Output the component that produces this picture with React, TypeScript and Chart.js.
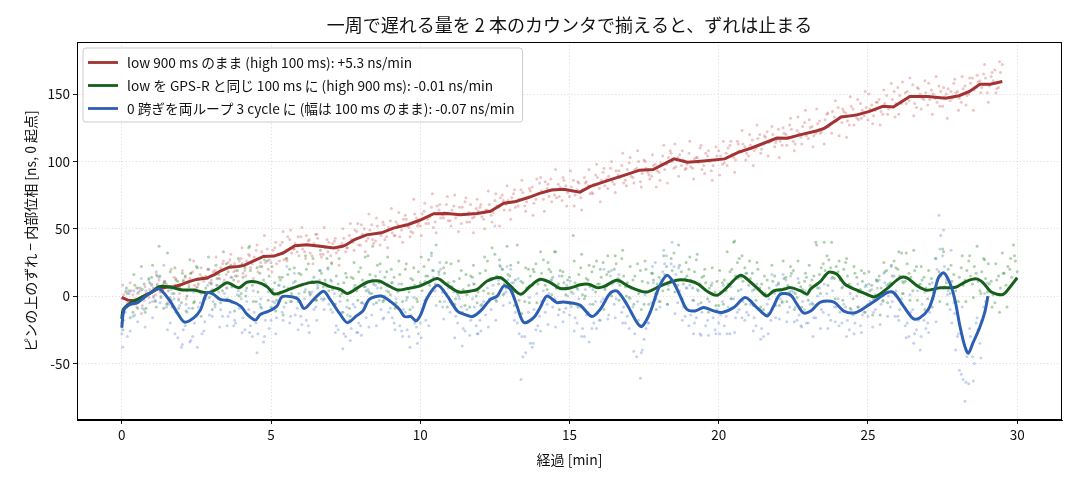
import React, { useEffect, useRef } from "react";
import { Chart, registerables } from "chart.js";

Chart.register(...registerables);

const TITLE = "一周で遅れる量を 2 本のカウンタで揃えると、ずれは止まる";
const X_LABEL = "経過 [min]";
const Y_LABEL = "ピンの上のずれ − 内部位相 [ns, 0 起点]";
const LABEL_RED = "low 900 ms のまま (high 100 ms): +5.3 ns/min";
const LABEL_GREEN = "low を GPS-R と同じ 100 ms に (high 900 ms): -0.01 ns/min";
const LABEL_BLUE = "0 跨ぎを両ループ 3 cycle に (幅は 100 ms のまま): -0.07 ns/min";

const X_TICKS = [0, 5, 10, 15, 20, 25, 30];
const Y_TICKS = [-50, 0, 50, 100, 150];

const SCATTER_STEP = 0.125; // minutes between raw samples of one array
const SCATTER_OFFSETS = [0, 0.0625, 0.03125]; // start time of raw arrays 1, 2, 3

// smoothed lines (time in min, value in ns)
const redLineT = [0, 0.2, 0.45, 0.75, 1.0, 1.2, 1.5, 1.75, 2.0, 2.2, 2.5, 2.85, 3.1, 3.3, 3.6, 3.9, 4.1, 4.4, 4.75, 5.1, 5.4, 5.8, 6.2, 6.65, 7.1, 7.4, 7.55, 7.8, 8.2, 8.7, 9.1, 9.6, 10.0, 10.45, 10.9, 11.35, 11.9, 12.35, 12.8, 13.15, 13.6, 14.0, 14.4, 14.8, 15.35, 15.7, 16.3, 16.9, 17.35, 17.8, 18.5, 18.95, 19.5, 20.2, 20.65, 21.1, 21.95, 22.3, 22.75, 23.3, 23.55, 24.1, 24.6, 25.05, 25.5, 25.85, 26.4, 27.0, 27.6, 28.05, 28.4, 28.75, 29.1, 29.5];
const redLineV = [-1, -3, -3.5, 0, 3, 5.4, 6.5, 7, 8.6, 10.4, 12.4, 13.4, 16, 18.6, 21.5, 22, 22.8, 26, 29.5, 29.7, 32, 37.4, 38.2, 37, 35.8, 37, 38.5, 42, 45.5, 47, 50.5, 53.2, 56.5, 61.2, 61.4, 60.5, 61.4, 63, 69, 70, 73, 76.3, 78.8, 79.4, 77.2, 81.5, 86, 90.2, 93.5, 94, 101.9, 99.4, 100.4, 101.9, 106.8, 110, 117.4, 117.2, 119.9, 122.8, 124.8, 133, 134.4, 137.2, 140.9, 140.4, 148.3, 148.3, 147, 148.8, 152, 157.4, 157.4, 159.4];

const greenLineT = [0, 0.05, 0.3, 0.63, 0.97, 1.25, 1.58, 1.86, 2.03, 2.42, 2.86, 3.2, 3.53, 3.92, 4.2, 4.53, 4.87, 5.09, 5.31, 5.65, 5.98, 6.31, 6.6, 6.98, 7.32, 7.55, 7.91, 8.24, 8.63, 8.91, 9.24, 9.58, 9.91, 10.24, 10.58, 10.91, 11.3, 11.69, 11.91, 12.24, 12.69, 13.02, 13.36, 13.69, 14.02, 14.36, 14.69, 15.02, 15.36, 15.64, 15.92, 16.14, 16.59, 16.92, 17.26, 17.59, 17.93, 18.26, 18.65, 19.04, 19.32, 19.6, 19.94, 20.27, 20.72, 21.06, 21.39, 21.61, 21.84, 22.17, 22.4, 22.73, 22.96, 23.08, 23.41, 23.69, 23.97, 24.24, 24.63, 24.97, 25.24, 25.63, 26.08, 26.3, 26.63, 26.97, 27.41, 27.74, 27.97, 28.3, 28.63, 28.86, 29.13, 29.52, 29.74, 30.0];
const greenLineV = [-17, -10, -5, -1.2, 2.5, 7, 7, 5.4, 4.5, 4.5, 2.5, 5.4, 10, 6.2, 10.4, 10.4, 7, 1.7, 2.5, 5.4, 8, 10, 10.4, 7, 5, 2, 6.3, 10.5, 11.2, 8, 4.6, 5.6, 7, 10, 13, 8, 3, 3.8, 5, 11.2, 13.7, 7.5, 1.4, 7.5, 12.5, 10, 5.6, 6, 8.4, 8.8, 6.3, 7, 11.7, 8, 4.6, 3, 6.3, 9.5, 12, 11.2, 8.8, 3.8, 0.6, 6.3, 15.4, 10.5, 3.8, 0, 3.8, 5, 6.3, 4, 1.4, 5.4, 11, 17.8, 16, 8.6, 4.4, 1.2, -0.5, 5.4, 13.6, 13.6, 7.9, 4.4, 6.2, 6.2, 6.9, 11, 12.8, 9.9, 3, 1.2, 6.2, 13.6];

const blueLineT = [0, 0.08, 0.3, 0.52, 0.75, 0.97, 1.25, 1.58, 1.86, 2.1, 2.42, 2.64, 2.86, 3.08, 3.3, 3.64, 3.98, 4.2, 4.48, 4.64, 4.98, 5.2, 5.37, 5.7, 5.92, 6.11, 6.43, 6.76, 6.98, 7.32, 7.56, 7.86, 8.08, 8.3, 8.69, 9.02, 9.3, 9.47, 9.69, 9.86, 10.02, 10.24, 10.58, 10.91, 11.24, 11.47, 11.74, 12.02, 12.36, 12.58, 12.8, 13.02, 13.24, 13.47, 13.8, 14.02, 14.24, 14.58, 14.8, 15.13, 15.36, 15.75, 16.03, 16.36, 16.59, 16.92, 17.26, 17.42, 17.7, 17.98, 18.26, 18.49, 18.71, 18.93, 19.21, 19.49, 19.83, 20.11, 20.5, 20.89, 21.28, 21.63, 21.84, 22.06, 22.4, 22.62, 22.84, 23.08, 23.41, 23.86, 24.19, 24.58, 24.97, 25.3, 25.63, 25.86, 26.19, 26.52, 26.74, 27.02, 27.19, 27.36, 27.54, 27.74, 27.91, 28.08, 28.24, 28.36, 28.52, 28.74, 28.91, 29.02];
const blueLineV = [-23.5, -10, -6, -5, -1, 2.5, 5.4, -2.5, -12.4, -19.3, -16, -10, 2.5, 1.2, -2.5, -3.7, -7.4, -13.6, -17.8, -13.6, -10.6, -7.4, -0.5, -0.5, -2.5, -9.2, -2.5, 3.7, -2.5, -13.6, -19.7, -14.7, -11, -2.3, 0, -4.3, -9.8, -15.2, -15.2, -18.4, -13.5, -1.1, 8, 0, -11, -13.5, -15.2, -11, -2.3, 0, 7.5, 5, -7.3, -19.6, -16, -8.5, 0, -4.8, -4.3, -5.3, -6.8, -15.2, -9.8, 2.1, 3.8, -6, -19.6, -22.6, -12.2, 5.6, 15.4, 10, 0, -9.8, -11, -8.5, -11, -12.2, -8.5, -1.1, -8.5, -14.7, -7.3, 1.4, 0.9, -6, -12.5, -11.1, -4.4, -4.4, -11.1, -12.3, -7.4, -2.5, 2.5, 2.5, -7.4, -16.8, -16, -9.9, 0, 13.6, 17.3, 9.9, -2.5, -22.2, -37, -42.5, -34.6, -23.5, -12.3, 0];

// raw samples: array n holds one sample every SCATTER_STEP minutes from SCATTER_OFFSETS[n]
const redRaw = [
  -2, 3, -6, 1, -8, 4, -3, 2,
  8, 1, 12, 4, 9, -1, 14, 6,
  5, 14, 9, 18, 6, 16, 11, 20,
  10, 19, 13, 24, 16, 27, 18, 15,
  28, 19, 31, 24, 34, 22, 30, 35,
  25, 36, 31, 40, 28, 42, 35, 33,
  44, 33, 41, 30, 46, 37, 31, 42,
  30, 41, 34, 39, 33, 45, 40, 48,
  38, 50, 43, 53, 41, 47, 55, 44,
  56, 45, 53, 49, 60, 51, 47, 58,
  52, 63, 57, 66, 55, 64, 60, 68,
  56, 67, 60, 54, 70, 62, 58, 65,
  66, 57, 64, 60, 71, 66, 75, 68,
  64, 76, 70, 79, 67, 74, 81, 72,
  84, 72, 80, 87, 75, 83, 71, 82,
  74, 86, 79, 73, 88, 82, 77, 90,
  80, 92, 87, 95, 83, 90, 97, 86,
  99, 88, 95, 85, 101, 92, 89, 98,
  92, 104, 98, 108, 95, 103, 97, 94,
  106, 95, 103, 110, 97, 104, 93, 101,
  108, 98, 106, 112, 103, 115, 107, 111,
  104, 116, 110, 120, 113, 122, 115, 111,
  124, 112, 120, 127, 115, 123, 118, 129,
  117, 126, 121, 130, 124, 135, 128, 133,
  140, 129, 136, 127, 139, 132, 143, 134,
  131, 142, 138, 146, 135, 149, 141, 152,
  155, 143, 151, 145, 157, 140, 150, 146,
  142, 153, 147, 156, 141, 150, 145, 158,
  152, 144, 156, 150, 162, 155, 160, 165,
  151, 163, 168, 155, 172,
];
const redRaw2 = [
  1, -5, 4, -2, 6, -7, 2, 5,
  0, 9, 3, 11, -2, 7, 13, 2,
  12, 4, 17, 8, 13, 3, 15, 10,
  18, 8, 21, 12, 25, 14, 19, 26,
  17, 26, 21, 29, 18, 33, 25, 27,
  34, 24, 38, 27, 44, 32, 39, 30,
  35, 45, 32, 39, 43, 29, 36, 40,
  39, 32, 37, 43, 36, 42, 49, 38,
  46, 41, 49, 39, 52, 45, 42, 51,
  47, 55, 44, 57, 52, 48, 61, 54,
  61, 54, 59, 51, 67, 58, 62, 56,
  64, 58, 66, 61, 55, 68, 59, 63,
  59, 64, 68, 62, 67, 73, 64, 71,
  73, 66, 72, 77, 70, 78, 69, 76,
  78, 85, 74, 79, 73, 81, 86, 77,
  81, 75, 84, 79, 85, 76, 83, 88,
  86, 82, 89, 85, 93, 88, 84, 94,
  89, 94, 100, 91, 95, 87, 97, 93,
  99, 94, 103, 100, 96, 105, 101, 98,
  96, 102, 99, 94, 106, 100, 97, 104,
  104, 99, 110, 105, 101, 108, 113, 106,
  112, 108, 117, 109, 118, 114, 120, 116,
  115, 121, 118, 124, 113, 121, 126, 119,
  125, 119, 128, 122, 131, 126, 137, 130,
  133, 137, 130, 141, 135, 131, 138, 140,
  139, 134, 144, 137, 143, 139, 146, 143,
  149, 145, 152, 148, 143, 154, 147, 151,
  146, 150, 144, 152, 148, 154, 147, 151,
  147, 154, 149, 158, 153, 159, 155, 162,
  156, 160, 154, 166,
];
const redRaw3 = [
  8, -8, 10, -6, 2, -13, 7, -1,
  -4, 16, 3, 10, -5, 20, 8, -2,
  19, -2, 13, 26, 7, 21, 0, 20,
  5, 29, 13, 26, 6, 31, 24, 11,
  36, 15, 30, 13, 38, 25, 45, 20,
  18, 40, 26, 48, 26, 49, 35, 44,
  51, 28, 42, 24, 46, 31, 51, 33,
  25, 43, 23, 50, 36, 54, 34, 54,
  53, 33, 61, 42, 58, 38, 53, 36,
  65, 45, 62, 40, 57, 44, 72, 52,
  45, 69, 54, 76, 47, 68, 58, 74,
  52, 75, 48, 66, 73, 55, 47, 72,
  68, 50, 78, 55, 76, 52, 71, 82,
  57, 79, 67, 86, 63, 80, 60, 87,
  88, 63, 83, 70, 94, 74, 88, 67,
  93, 67, 85, 64, 84, 94, 76, 98,
  70, 95, 80, 100, 77, 93, 106, 82,
  103, 84, 108, 81, 100, 90, 105, 81,
  86, 112, 84, 106, 113, 89, 108, 95,
  115, 87, 103, 112, 91, 108, 86, 111,
  90, 115, 97, 115, 92, 113, 123, 101,
  120, 97, 127, 106, 119, 104, 126, 114,
  103, 125, 112, 132, 108, 133, 113, 138,
  131, 111, 139, 121, 113, 136, 121, 145,
  119, 139, 118, 148, 127, 146, 132, 152,
  150, 128, 144, 127, 153, 135, 158, 133,
  135, 159, 143, 162, 134, 155, 139, 160,
  158, 135, 163, 141, 155, 132, 152, 161,
  138, 163, 142, 162, 138, 164, 151, 172,
  144, 166, 151, 174,
];

const greenRaw = [
  -20, -8, 4, -12, 6, -3, 9, 1,
  14, -4, 37, 8, -6, 18, 2, 11,
  -5, 15, 7, -9, 22, 3, -2, 13,
  9, -6, 16, 4, 24, -3, 12, 19,
  2, 21, 36, 8, -4, 17, 12, 26,
  -8, 10, 1, 14, -5, 20, 6, -1,
  16, 3, 24, 11, -3, 19, 7, 28,
  12, -6, 9, 2, 17, -9, 13, 4,
  21, 7, 30, 2, 15, 10, -4, 18,
  1, 14, -8, 9, 20, 3, 12, -2,
  10, 22, 15, 32, 9, 18, 3, 25,
  -4, 11, 2, 19, -7, 8, 14, 0,
  17, 4, 26, 13, 31, 9, 20, 6,
  15, 3, 38, 11, -4, 20, 8, 24,
  12, 27, 5, 18, 33, 9, 15, 1,
  14, 45, 6, 21, -2, 12, 18, 3,
  9, 25, 16, 2, 20, 13, 28, 7,
  -1, 12, 5, 19, -6, 10, 17, 2,
  14, 4, 22, 11, 32, 8, 18, 13,
  20, 6, 27, 9, 15, -2, 8, 3,
  -7, 10, 4, 18, 40, 25, 14, 21,
  8, 17, -3, 6, -10, 12, 2, 15,
  9, -4, 14, 3, 19, -1, 7, 11,
  -3, 12, 40, 16, 24, 30, 21, 13,
  18, 6, 25, 9, -2, 14, 5, 17,
  -6, 8, 1, 15, -3, 19, 10, 26,
  20, 32, 11, 17, 4, 22, 9, 14,
  -2, 13, 6, 18, 35, 10, 2, 16,
  7, 21, 12, 26, 9, 17, 4, 28,
  3, 11, -5, 15, 32, 8, 20, 38,
  18,
];
const greenRaw2 = [
  -12, 2, -6, 8, -2, 5, -9, 10,
  6, 15, -1, 10, 4, -8, 12, 7,
  11, 0, 17, -4, 9, 14, 6, -1,
  2, 13, -5, 9, 18, 7, 15, 0,
  14, 6, 19, 11, 3, 22, 9, 15,
  5, -3, 12, 7, 16, 2, 11, 17,
  9, 20, 1, 14, 6, 17, 12, 4,
  5, 15, 0, 10, -3, 14, 8, 18,
  12, 4, 16, 9, 23, 6, 14, 3,
  10, -5, 16, 5, -1, 13, 8, 18,
  4, 15, 8, 19, 13, 7, 17, 10,
  7, -2, 13, 5, 1, 15, 9, 3,
  8, 19, 12, 2, 15, 22, 9, 16,
  4, 12, -3, 10, 6, 15, 18, 9,
  17, 8, 20, 14, 6, 19, 10, 12,
  3, 10, 16, 1, 13, 7, 22, 9,
  14, 5, 18, 11, 24, 8, 15, 10,
  6, 15, 2, 11, 20, 4, 12, 9,
  8, 16, 5, 19, 12, 23, 9, 15,
  12, 18, 4, 14, 10, 6, 1, 11,
  3, 12, 9, 20, 15, 28, 11, 17,
  13, 5, 20, 9, 2, 6, 11, -2,
  3, 13, 8, 17, 2, 10, 5, 14,
  8, 15, 6, 21, 19, 27, 14, 22,
  12, 20, 15, 7, 17, 3, 11, 8,
  4, -2, 11, 6, 18, 9, 15, 21,
  15, 10, 24, 14, 19, 8, 12, 6,
  9, 3, 12, 15, 7, 20, 11, 4,
  14, 8, 19, 15, 22, 11, 18, 13,
  9, 1, 12, 6, 17, 22, 14, 26,
];
const greenRaw3 = [
  -25, 6, -16, 16, -9, 22, -12, 13,
  23, -8, 15, -9, 32, -3, 21, -9,
  17, -11, 27, -5, 21, -15, 13, 29,
  -10, 23, -2, 33, -2, 23, -11, 28,
  24, 0, 37, -4, 21, -8, 27, -3,
  22, -11, 14, -14, 28, -4, 21, -4,
  -7, 30, 3, 28, -3, 34, -2, 21,
  24, -6, 28, -12, 14, -15, 25, -3,
  -5, 29, 3, 37, -5, 24, -3, 29,
  20, -9, 26, -4, 24, -10, 21, -4,
  29, -3, 27, 4, 38, -4, 21, -8,
  24, -6, 26, -12, 16, -8, 23, -5,
  -7, 29, 2, 36, -3, 27, 1, 37,
  23, -7, 25, -13, 21, -5, 20, -5,
  33, -3, 25, 1, 33, -10, 18, -5,
  -6, 26, -8, 31, 0, 23, -6, 26,
  20, -10, 30, 0, 30, -3, 34, 0,
  22, -6, 24, -10, 26, -6, 17, -10,
  -4, 30, -6, 28, 3, 38, -2, 25,
  29, -3, 31, -5, 20, -12, 21, -7,
  19, -6, 33, -2, 41, 4, 30, -6,
  26, -7, 25, -8, 15, -13, 23, -7,
  -7, 26, -4, 22, -10, 26, -8, 17,
  23, -6, 38, 2, 40, 8, 40, -2,
  26, -3, 28, -9, 22, -8, 19, -12,
  18, -14, 12, -14, 25, -5, 23, 2,
  33, 2, 32, -3, 34, -3, 22, -10,
  19, -8, 28, -4, 33, -6, 23, -3,
  -4, 30, -4, 30, -1, 37, 2, 27,
  24, -8, 24, -12, 17, -8, 28, 30,
];

const blueRaw = [
  -28, -12, 2, -15, -4, 6, -10, 1,
  9, -3, 14, 5, -8, -20, -2, -31,
  -38, -22, -9, -30, -15, -5, -26, 8,
  12, -8, 3, -15, 6, -12, -22, 1,
  -2, -25, -10, -30, -20, -6, -34, -12,
  -18, -5, 8, -12, 4, -20, 10, -9,
  -15, -2, -22, 3, -8, 12, -3, 7,
  -10, 2, -25, -12, -30, -18, -6, -27,
  -22, -6, 5, -14, 8, -3, -17, 4,
  -9, -20, 3, -26, -12, -30, -8, -23,
  -20, -6, 10, 30, 4, 16, -8, 2,
  -12, 3, -20, -8, -26, -14, -2, -22,
  -18, -4, 6, -10, 52, 12, 20, 3,
  -5, 10, -20, -62, -30, -12, -38, -25,
  -15, 4, -6, 12, -2, -14, 6, -9,
  -14, 2, -20, -8, -30, -12, -24, -4,
  -18, -2, 8, 15, -6, 10, -12, -20,
  -24, -8, -45, -61, -32, -20, -5, 25,
  -4, 18, 30, 10, 22, -5, 12, -15,
  -22, -3, -16, -28, -8, -18, 2, -25,
  -20, -4, -15, -28, -2, -12, 5, -18,
  -14, 4, -22, -10, -30, -6, -18, 2,
  10, -5, 12, -8, 3, -18, -22, -10,
  -20, -5, -16, 6, -12, 2, -18, -8,
  -2, -20, -8, -25, -14, 0, -22, -12,
  -15, 5, -10, 12, -4, 8, -8, 15,
  -15, -2, -22, -30, -10, -25, -40, -18,
  -20, 5, 28, 60, 30, 12, -10, -5,
  -30, -58, -78, -65, -45, -20, -35, -8,
  10,
];
const blueRaw2 = [
  -18, -30, -6, -14, 3, -9, 4, -5,
  -1, 8, 0, 11, -6, 2, -12, -7,
  -25, -12, -33, -20, -8, -28, -2, -14,
  -4, 8, -10, 2, -15, -5, -20, -9,
  -16, -4, -22, -12, -28, -9, -18, -24,
  -4, -16, 3, -8, 6, -4, -14, 2,
  -8, -18, 2, -10, 8, -2, 10, -6,
  -12, -22, -4, -28, -14, -24, -8, -20,
  -5, -16, 2, -6, 6, -10, 0, -12,
  -16, -2, -22, -10, -25, -14, -20, -28,
  -10, -18, 2, 14, 8, 20, -4, 6,
  -6, -15, -2, -24, -10, -18, -8, -28,
  -6, -14, -2, 8, -4, 14, 2, 12,
  10, -12, -28, -45, -20, -35, -10, -22,
  -4, -12, 2, -8, 6, -5, -12, 0,
  -8, -16, -2, -24, -14, -6, -20, -12,
  -4, 6, -14, 9, -2, 12, -8, -15,
  -12, -28, -18, -40, -24, -12, 10, 2,
  12, 24, 8, 40, 16, 4, -8, 6,
  -14, -20, -6, -12, -22, -4, -16, -10,
  -14, -22, -8, -2, -16, -10, -4, -12,
  -6, -16, -10, -24, -14, -2, -8, 8,
  -2, 6, -12, 4, -8, -14, -4, -20,
  -6, -16, 0, -10, -4, -14, 4, -8,
  -12, -6, -18, -10, -20, -8, -14, 2,
  -4, -12, 6, -6, 10, 0, -4, 4,
  -10, 2, -20, -12, -28, -18, -6, -24,
  -12, -2, 20, 45, 22, 4, -20, -40,
  -55, -62, -45, -30, -50, -25, -18, -4,
];
const blueRaw3 = [
  -38, 4, -26, 4, -19, 13, -23, 12,
  -16, 18, -5, 23, -25, 5, -28, -3,
  -36, -6, -34, 3, -38, 2, -19, 20,
  -15, 16, -23, 10, -22, 14, -18, 4,
  -27, 4, -27, 4, -42, -2, -30, 3,
  5, -28, 8, -18, 22, -15, 17, -25,
  -21, 5, -27, 10, -18, 19, -10, 20,
  11, -27, 4, -39, -8, -33, 6, -27,
  -29, 7, -23, 12, -22, 18, -16, 9,
  10, -25, 9, -30, -3, -38, -1, -35,
  -31, 11, -22, 19, -7, 25, -17, 8,
  7, -31, 0, -37, 3, -29, 9, -28,
  -26, 10, -23, 12, -18, 23, -7, 22,
  20, -18, 13, -30, -42, -1, -35, 2,
  -26, 12, -21, 12, -23, 15, -19, 8,
  11, -26, 5, -30, 5, -34, 5, -24,
  -18, 20, -17, 19, -16, 16, -20, 9,
  -2, -41, -4, -42, 1, -20, 22, -2,
  -8, 34, -6, 24, -13, 21, -18, 6,
  8, -28, 5, -29, 5, -29, 10, -28,
  -28, 8, -28, 7, -27, 13, -16, 17,
  11, -26, 9, -32, 1, -28, 16, -16,
  -17, 16, -19, 15, -19, 13, -23, 4,
  4, -30, 8, -24, 9, -24, 13, -19,
  -22, 7, -30, 2, -28, 9, -27, 7,
  9, -23, 12, -21, 17, -15, 22, -15,
  -18, 11, -31, 1, -35, 4, -30, 3,
  -27, 10, -19, 35, 49, 1, 34, -13,
  -28, -8, -64, -24, -63, -16, -46, 2,
];

const RED = "#a33232";
const GREEN = "#15601a";
const BLUE = "#2c5fb4";
const FONT = "'Noto Sans CJK JP', 'Noto Sans', sans-serif";

export default function App() {
  const ref = useRef<HTMLCanvasElement>(null);

  useEffect(() => {
    document.body.style.margin = "0";
    const canvas = ref.current;
    if (!canvas) return;

    const linePts = (ts: number[], vs: number[]) => ts.map((t, i) => ({ x: t, y: vs[i] }));
    const rawPts = (arrays: number[][]) =>
      arrays.flatMap((vs, n) => vs.map((v, i) => ({ x: SCATTER_OFFSETS[n] + i * SCATTER_STEP, y: v })));

    const frame = {
      id: "frame",
      afterDatasetsDraw(chart: any) {
        const { ctx, chartArea: a } = chart;
        ctx.save();
        ctx.strokeStyle = "#000";
        ctx.lineWidth = 1;
        ctx.strokeRect(a.left + 0.5, a.top + 0.5, a.right - a.left - 1, a.bottom - a.top - 1);
        ctx.restore();
      },
      afterDraw(chart: any) {
        const { ctx, chartArea: a } = chart;
        const items = [
          { c: RED, t: LABEL_RED },
          { c: GREEN, t: LABEL_GREEN },
          { c: BLUE, t: LABEL_BLUE },
        ];
        ctx.save();
        ctx.font = `13.7px ${FONT}`;
        let maxW = 0;
        items.forEach((it) => (maxW = Math.max(maxW, ctx.measureText(it.t).width)));
        const x0 = a.left + 6;
        const y0 = a.top + 6;
        const w = 44 + maxW + 8;
        const h = 74;
        const r = 3;
        ctx.beginPath();
        ctx.moveTo(x0 + r, y0);
        ctx.arcTo(x0 + w, y0, x0 + w, y0 + h, r);
        ctx.arcTo(x0 + w, y0 + h, x0, y0 + h, r);
        ctx.arcTo(x0, y0 + h, x0, y0, r);
        ctx.arcTo(x0, y0, x0 + w, y0, r);
        ctx.closePath();
        ctx.fillStyle = "rgba(255,255,255,0.8)";
        ctx.fill();
        ctx.strokeStyle = "#cccccc";
        ctx.lineWidth = 1;
        ctx.stroke();
        items.forEach((it, i) => {
          const cy = y0 + 14.5 + i * 23;
          ctx.strokeStyle = it.c;
          ctx.lineWidth = 2.8;
          ctx.beginPath();
          ctx.moveTo(x0 + 5, cy);
          ctx.lineTo(x0 + 35, cy);
          ctx.stroke();
          ctx.fillStyle = "#111";
          ctx.textBaseline = "middle";
          ctx.textAlign = "left";
          ctx.fillText(it.t, x0 + 44, cy);
        });
        ctx.restore();
      },
    };

    const rawStyle = (color: string, order: number) => ({
      pointRadius: 1.5,
      pointBorderWidth: 0,
      pointBackgroundColor: color,
      showLine: false,
      order,
    });

    const chart = new Chart(canvas, {
      type: "scatter",
      data: {
        datasets: [
          { label: "red raw", data: rawPts([redRaw, redRaw2, redRaw3]), ...rawStyle("rgba(205,95,95,0.36)", 6) },
          { label: "green raw", data: rawPts([greenRaw, greenRaw2, greenRaw3]), ...rawStyle("rgba(60,145,60,0.42)", 5) },
          { label: "blue raw", data: rawPts([blueRaw, blueRaw2, blueRaw3]), ...rawStyle("rgba(95,130,210,0.36)", 4) },
          {
            label: LABEL_RED,
            data: linePts(redLineT, redLineV),
            showLine: true,
            borderColor: RED,
            borderWidth: 3,
            pointRadius: 0,
            tension: 0,
            order: 3,
          },
          {
            label: LABEL_GREEN,
            data: linePts(greenLineT, greenLineV),
            showLine: true,
            borderColor: GREEN,
            borderWidth: 3,
            pointRadius: 0,
            tension: 0.3,
            order: 2,
          },
          {
            label: LABEL_BLUE,
            data: linePts(blueLineT, blueLineV),
            showLine: true,
            borderColor: BLUE,
            borderWidth: 3,
            pointRadius: 0,
            tension: 0.3,
            order: 1,
          },
        ],
      },
      options: {
        animation: false,
        responsive: true,
        maintainAspectRatio: false,
        layout: { padding: { left: 0, right: 16, top: 0, bottom: 0 } },
        plugins: {
          legend: { display: false },
          tooltip: { enabled: false },
          title: {
            display: true,
            fullSize: false,
            text: TITLE,
            color: "#111",
            font: { family: FONT, size: 18, weight: "normal" },
            padding: { top: 14, bottom: 6.4 },
          },
        },
        scales: {
          x: {
            type: "linear",
            min: -1.5,
            max: 31.5,
            afterBuildTicks: (s: any) => {
              s.ticks = X_TICKS.map((v) => ({ value: v }));
            },
            afterFit: (s: any) => {
              s.height = 64;
            },
            ticks: {
              color: "#111",
              font: { family: FONT, size: 13.5 },
              padding: 3,
              maxRotation: 0,
              callback: (v: any) => String(v),
            },
            grid: {
              color: "rgba(0,0,0,0.16)",
              lineWidth: 0.8,
              tickLength: 4,
              tickColor: "#000",
              tickWidth: 0.9,
            },
            border: { display: true, color: "#000", width: 1, dash: [1.2, 2.2] },
            title: {
              display: true,
              text: X_LABEL,
              color: "#111",
              font: { family: FONT, size: 14 },
              padding: { top: 0, bottom: 15.5 },
            },
          },
          y: {
            type: "linear",
            min: -92,
            max: 188.7,
            afterBuildTicks: (s: any) => {
              s.ticks = Y_TICKS.map((v) => ({ value: v }));
            },
            afterFit: (s: any) => {
              s.width = 77;
            },
            ticks: {
              color: "#111",
              font: { family: FONT, size: 13.5 },
              padding: 3,
              callback: (v: any) => String(v),
            },
            grid: {
              color: "rgba(0,0,0,0.16)",
              lineWidth: 0.8,
              tickLength: 4,
              tickColor: "#000",
              tickWidth: 0.9,
            },
            border: { display: true, color: "#000", width: 1, dash: [1.2, 2.2] },
            title: {
              display: true,
              text: Y_LABEL,
              color: "#111",
              font: { family: FONT, size: 14 },
              padding: { top: 22, bottom: 0 },
            },
          },
        },
      },
      plugins: [frame],
    });

    return () => chart.destroy();
  }, []);

  return (
    <div style={{ width: 1078, height: 484, position: "relative" }}>
      <canvas ref={ref} />
    </div>
  );
}
